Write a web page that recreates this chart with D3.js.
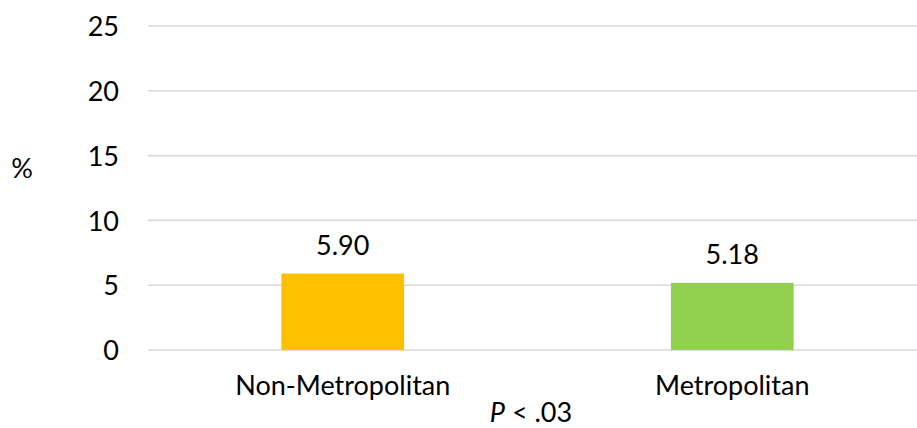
<!DOCTYPE html>
<html>
<head>
<meta charset="utf-8">
<script src="https://cdn.jsdelivr.net/npm/d3@7"></script>
<style>
  html, body { margin: 0; padding: 0; background: #fff; }
  svg { display: block; }
  text { font-family: Lato, "Open Sans", sans-serif; fill: #000; }
</style>
</head>
<body>
<svg id="chart" width="917" height="428"></svg>
<script>
// Share of respondents (%) by residence type
const categories = ["Non-Metropolitan", "Metropolitan"];
const values = [5.90, 5.18];
const barColors = ["#FFC000", "#92D050"];
const yTicks = [0, 5, 10, 15, 20, 25];
const yLabel = "%";
const note = ".03";

const fontSize = 27;
const svg = d3.select("#chart");

const x = d3.scaleBand().domain(categories).range([148, 927]).padding(0);
const y = d3.scaleLinear().domain([0, 25]).range([350, 26]);
const barW = x.bandwidth() * 0.315;

// horizontal gridlines
svg.append("g")
  .selectAll("line")
  .data(yTicks)
  .join("line")
  .attr("x1", 148)
  .attr("x2", 927)
  .attr("y1", d => y(d))
  .attr("y2", d => y(d))
  .attr("stroke", "#d9d9d9")
  .attr("stroke-width", 1.6);

// y axis tick labels
const yAxis = d3.axisLeft(y).tickValues(yTicks).tickSize(0).tickPadding(0);
const gy = svg.append("g").attr("transform", "translate(119,0)").call(yAxis);
gy.select(".domain").remove();
gy.selectAll("text")
  .attr("font-size", fontSize)
  .attr("font-family", "Lato, 'Open Sans', sans-serif")
  .attr("fill", "#000")
  .attr("dy", "0.36em");

// y axis title
svg.append("text")
  .attr("x", 22)
  .attr("y", 168)
  .attr("dy", "0.36em")
  .attr("text-anchor", "middle")
  .attr("font-size", fontSize)
  .text(yLabel);

// bars
svg.append("g")
  .selectAll("rect")
  .data(values)
  .join("rect")
  .attr("x", (d, i) => x(categories[i]) + x.bandwidth() / 2 - barW / 2)
  .attr("width", barW)
  .attr("y", d => y(d))
  .attr("height", d => y(0) - y(d))
  .attr("fill", (d, i) => barColors[i]);

// value labels
svg.append("g")
  .selectAll("text")
  .data(values)
  .join("text")
  .attr("x", (d, i) => x(categories[i]) + x.bandwidth() / 2)
  .attr("y", d => y(d) - 19)
  .attr("text-anchor", "middle")
  .attr("font-size", fontSize)
  .text(d => d.toFixed(2));

// category axis labels
const xAxis = d3.axisBottom(x).tickSize(0).tickPadding(0);
const gx = svg.append("g").attr("transform", "translate(0,395)").call(xAxis);
gx.select(".domain").remove();
gx.selectAll("text")
  .attr("font-size", fontSize)
  .attr("font-family", "Lato, 'Open Sans', sans-serif")
  .attr("fill", "#000")
  .attr("dy", 0);

// significance note
const noteText = svg.append("text")
  .attr("x", 531)
  .attr("y", 422)
  .attr("text-anchor", "middle")
  .attr("font-size", fontSize);
noteText.append("tspan").attr("font-style", "italic").text("P");
noteText.append("tspan").text(" < " + note);
</script>
</body>
</html>
